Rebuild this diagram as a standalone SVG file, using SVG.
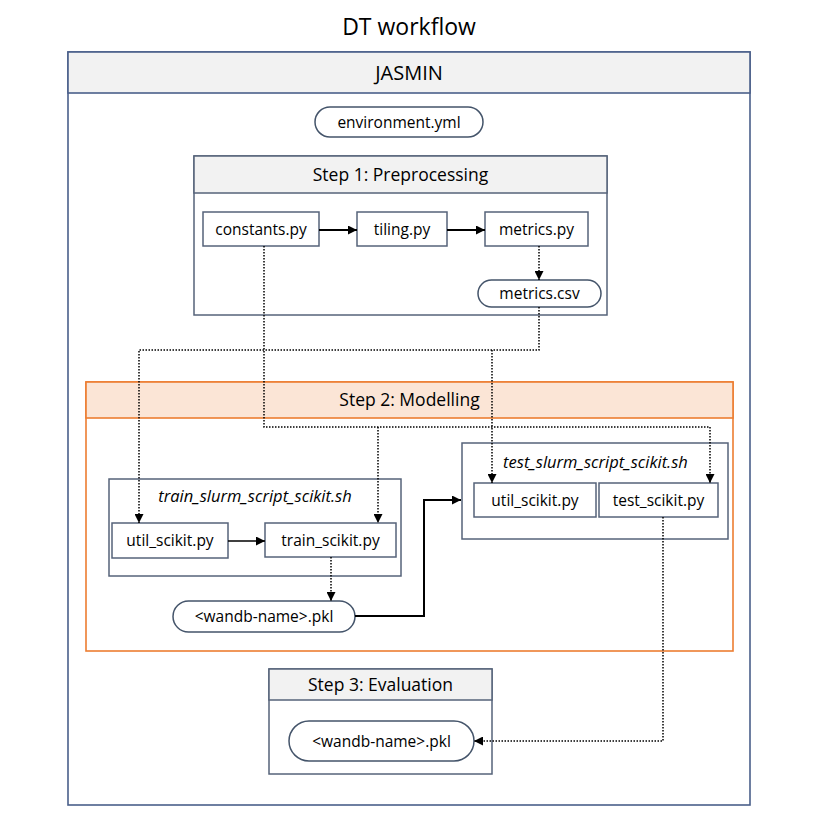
<svg xmlns="http://www.w3.org/2000/svg" width="827" height="816" viewBox="0 0 827 816">
<defs>
<style>
text{font-family:"Open Sans","Liberation Sans",sans-serif;fill:#000;text-anchor:middle}
.t{font-size:15.5px}
.h{font-size:17.5px}
.it{font-size:16.5px;font-style:italic}
.box{fill:#fff;stroke:#56637a;stroke-width:1.5}
.hdr{fill:#f2f2f2;stroke:#56637a;stroke-width:1.5}
.pill{fill:#fff;stroke:#44546a;stroke-width:1.5}
.dot{fill:none;stroke:#000;stroke-width:1.5;stroke-dasharray:1.5 1.5}
.sol{fill:none;stroke:#000;stroke-width:2}
.thin{fill:none;stroke:#000;stroke-width:1.3}
</style>
<marker id="ah" viewBox="0 0 10 10" refX="10" refY="5" markerWidth="9" markerHeight="9" markerUnits="userSpaceOnUse" orient="auto">
<path d="M0,0 L10,5 L0,10 z" fill="#000"/>
</marker>
</defs>
<rect width="827" height="816" fill="#fff"/>
<text x="409" y="35" style="font-size:23px">DT workflow</text>

<g id="jasmin">
<rect x="68" y="52" width="682" height="753" fill="#fff" stroke="#4a5f8a" stroke-width="1.6"/>
<rect x="68" y="52" width="682" height="41" fill="#f2f2f2" stroke="#4a5f8a" stroke-width="1.6"/>
<text x="409" y="80" style="font-size:20px">JASMIN</text>
</g>

<g id="environment">
<rect class="pill" x="315" y="107" width="168" height="30" rx="15"/>
<text class="t" x="399" y="127.5">environment.yml</text>
</g>

<g id="step1">
<rect class="box" x="194" y="156" width="413" height="159"/>
<rect class="hdr" x="194" y="156" width="413" height="37"/>
<text class="h" x="400.5" y="181">Step 1: Preprocessing</text>
</g>
<g id="constants">
<rect class="box" x="203" y="212" width="116" height="34"/>
<text class="t" x="261" y="234.5">constants.py</text>
</g>
<g id="tiling">
<rect class="box" x="357" y="212" width="90" height="34"/>
<text class="t" x="402" y="234.5">tiling.py</text>
</g>
<g id="metrics_py">
<rect class="box" x="485" y="212" width="103" height="34"/>
<text class="t" x="536.5" y="234.5">metrics.py</text>
</g>
<g id="metrics_csv">
<rect class="pill" x="478" y="280" width="123" height="27" rx="13.5"/>
<text class="t" x="539.5" y="299">metrics.csv</text>
</g>

<g id="step2">
<rect x="86" y="382" width="647" height="269" fill="#fff" stroke="#ed7d31" stroke-width="1.6"/>
<rect x="86" y="382" width="647" height="36" fill="#fbe5d6" stroke="#ed7d31" stroke-width="1.6"/>
<text class="h" x="409.5" y="406">Step 2: Modelling</text>
</g>

<g id="train_slurm">
<rect class="box" x="109" y="479" width="292" height="97"/>
<text class="it" x="255" y="502">train_slurm_script_scikit.sh</text>
</g>
<g id="util_train">
<rect class="box" x="112" y="523" width="116" height="35"/>
<text class="t" x="170" y="546">util_scikit.py</text>
</g>
<g id="train_scikit">
<rect class="box" x="265" y="523" width="131" height="34"/>
<text class="t" x="330.5" y="545.5">train_scikit.py</text>
</g>
<g id="pkl_train">
<rect class="pill" x="173" y="601" width="182" height="31" rx="15.5"/>
<text class="t" x="264" y="621.5">&lt;wandb-name&gt;.pkl</text>
</g>

<g id="test_slurm">
<rect class="box" x="462" y="443" width="266" height="96"/>
<text class="it" x="595.5" y="468">test_slurm_script_scikit.sh</text>
</g>
<g id="util_test">
<rect class="box" x="474" y="483" width="122" height="34"/>
<text class="t" x="535" y="505.5">util_scikit.py</text>
</g>
<g id="test_scikit">
<rect class="box" x="599" y="483" width="119" height="34"/>
<text class="t" x="658.5" y="505.5">test_scikit.py</text>
</g>

<g id="step3">
<rect class="box" x="269" y="669" width="223" height="105"/>
<rect class="hdr" x="269" y="669" width="223" height="31"/>
<text class="h" x="380.5" y="691">Step 3: Evaluation</text>
</g>
<g id="pkl_eval">
<rect class="pill" x="289" y="721" width="185" height="40" rx="20"/>
<text class="t" x="381.5" y="746.5">&lt;wandb-name&gt;.pkl</text>
</g>

<g id="connectors">
<path class="sol" d="M319,230 H357" marker-end="url(#ah)"/>
<path class="sol" d="M447,230 H485" marker-end="url(#ah)"/>
<path class="dot" d="M539,246 V280" marker-end="url(#ah)"/>
<path class="dot" d="M539,307 V350 H139 V523" marker-end="url(#ah)"/>
<path class="dot" d="M492,350 V483" marker-end="url(#ah)"/>
<path class="dot" d="M264,246 V427 H710 V483" marker-end="url(#ah)"/>
<path class="dot" d="M378,427 V523" marker-end="url(#ah)"/>
<path class="thin" d="M228,541 H265" marker-end="url(#ah)"/>
<path class="dot" d="M331,557 V601" marker-end="url(#ah)"/>
<path class="sol" d="M355,616 H424 V500 H461" marker-end="url(#ah)"/>
<path class="dot" d="M663,517 V741 H474" marker-end="url(#ah)"/>
</g>
</svg>
